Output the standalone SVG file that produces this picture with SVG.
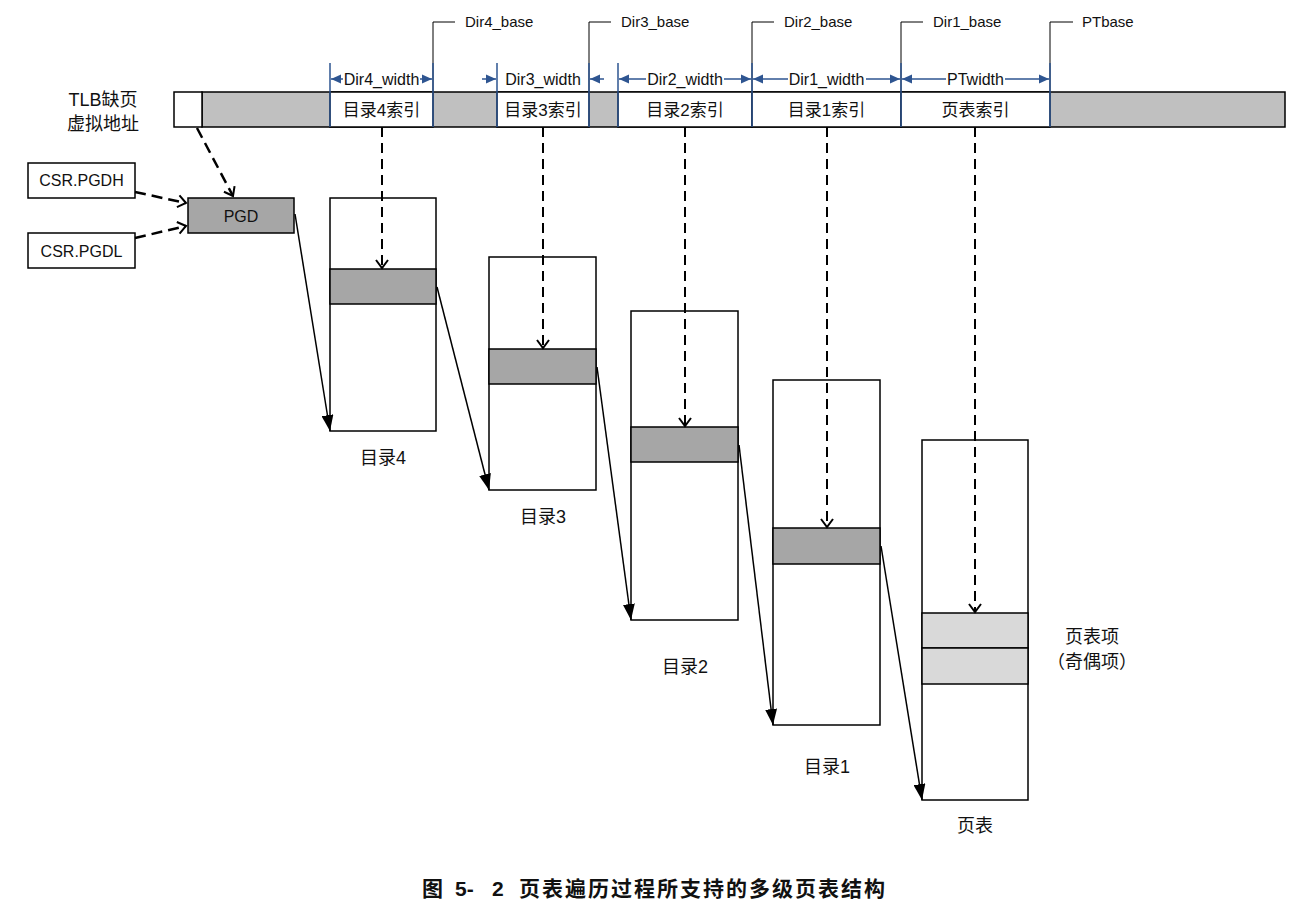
<svg xmlns="http://www.w3.org/2000/svg" width="1293" height="900" viewBox="0 0 1293 900">
<defs>
<style>
text{font-family:"Liberation Sans","Noto Sans CJK SC",sans-serif;fill:#111}
.lbl{font-size:15px}
.idx{font-size:17px;text-anchor:middle}
.wd{font-size:16px;text-anchor:middle}
.box{fill:#fff;stroke:#000;stroke-width:1.5}
.ent{fill:#a6a6a6;stroke:#000;stroke-width:1.5}
.ent2{fill:#d9d9d9;stroke:#000;stroke-width:1.5}
.bar{fill:#c0c0c0;stroke:#000;stroke-width:1.5}
.blue{stroke:#2E5591;stroke-width:1.5;fill:none}
.base{stroke:#000;stroke-width:1;fill:none}
.dash{stroke:#000;stroke-width:2;stroke-dasharray:10,6;fill:none;marker-end:url(#open)}
.dash2{stroke:#000;stroke-width:2.5;stroke-dasharray:11,6;fill:none;marker-end:url(#open)}
.solid{stroke:#000;stroke-width:1.5;fill:none;marker-end:url(#solid)}
</style>
<marker id="open" markerUnits="userSpaceOnUse" markerWidth="16" markerHeight="16" viewBox="0 0 16 16" refX="10" refY="8" orient="auto">
<path d="M2,2 L10,8 L2,14" fill="none" stroke="#000" stroke-width="2"/>
</marker>
<marker id="solid" markerUnits="userSpaceOnUse" markerWidth="16" markerHeight="12" viewBox="0 0 16 12" refX="16" refY="6" orient="auto">
<path d="M0,0 L16,6 L0,12 z" fill="#000"/>
</marker>
<marker id="blu" markerUnits="userSpaceOnUse" markerWidth="10" markerHeight="10" viewBox="0 0 10 10" refX="10" refY="5" orient="auto">
<path d="M0,0.5 L10,5 L0,9.5 z" fill="#2E5591"/>
</marker>
</defs>

<g id="va-label">
<text x="103" y="106" text-anchor="middle" style="font-size:18px">TLB缺页</text>
<text x="103" y="130" text-anchor="middle" style="font-size:18px">虚拟地址</text>
</g>

<g id="va-bar">
<rect class="bar" x="202" y="92" width="1083" height="35"/>
<rect class="box" x="174" y="92" width="28" height="35"/>
<rect class="box" x="330" y="92" width="103" height="35"/>
<text class="idx" x="381.5" y="116">目录4索引</text>
<rect class="box" x="497" y="92" width="92" height="35"/>
<text class="idx" x="543" y="116">目录3索引</text>
<rect class="box" x="618" y="92" width="134" height="35"/>
<text class="idx" x="685" y="116">目录2索引</text>
<rect class="box" x="752" y="92" width="149" height="35"/>
<text class="idx" x="826.5" y="116">目录1索引</text>
<rect class="box" x="901" y="92" width="149" height="35"/>
<text class="idx" x="975.5" y="116">页表索引</text>
</g>

<g id="bases">
<path class="base" d="M433,92 V22 H455"/>
<text class="lbl" x="465" y="27">Dir4_base</text>
<path class="base" d="M589,92 V22 H611"/>
<text class="lbl" x="621" y="27">Dir3_base</text>
<path class="base" d="M752,92 V22 H774"/>
<text class="lbl" x="784" y="27">Dir2_base</text>
<path class="base" d="M901,92 V22 H923"/>
<text class="lbl" x="933" y="27">Dir1_base</text>
<path class="base" d="M1050,92 V22 H1073"/>
<text class="lbl" x="1082" y="27">PTbase</text>
</g>

<g id="widths">
<path class="blue" d="M330,63 V127 M433,63 V127 M497,63 V127 M589,63 V127 M618,63 V127 M752,63 V127 M901,63 V127 M1050,63 V127"/>
<path class="blue" d="M343,79 H331" marker-end="url(#blu)"/>
<path class="blue" d="M420,79 H432" marker-end="url(#blu)"/>
<text class="wd" x="381.5" y="85">Dir4_width</text>
<path class="blue" d="M482,79 H496" marker-end="url(#blu)"/>
<path class="blue" d="M604,79 H590" marker-end="url(#blu)"/>
<text class="wd" x="543" y="85">Dir3_width</text>
<path class="blue" d="M646,79 H619" marker-end="url(#blu)"/>
<path class="blue" d="M724,79 H751" marker-end="url(#blu)"/>
<text class="wd" x="685" y="85">Dir2_width</text>
<path class="blue" d="M788,79 H753" marker-end="url(#blu)"/>
<path class="blue" d="M866,79 H900" marker-end="url(#blu)"/>
<text class="wd" x="826.5" y="85">Dir1_width</text>
<path class="blue" d="M946,79 H902" marker-end="url(#blu)"/>
<path class="blue" d="M1005,79 H1049" marker-end="url(#blu)"/>
<text class="wd" x="975.5" y="85">PTwidth</text>
</g>

<g id="csr-pgdh">
<rect class="box" x="28" y="163" width="107" height="35"/>
<text class="wd" x="81.5" y="186">CSR.PGDH</text>
</g>
<g id="csr-pgdl">
<rect class="box" x="28" y="233" width="107" height="35"/>
<text class="wd" x="81.5" y="257">CSR.PGDL</text>
</g>
<g id="pgd">
<rect class="ent" x="188" y="198" width="106" height="35"/>
<text class="wd" x="241" y="222">PGD</text>
</g>

<g id="dir4">
<rect class="box" x="330" y="198" width="106" height="233"/>
<rect class="ent" x="330" y="269" width="106" height="35"/>
<text class="idx" x="383" y="464" style="font-size:18px">目录4</text>
</g>
<g id="dir3">
<rect class="box" x="489" y="257" width="107" height="233"/>
<rect class="ent" x="489" y="349" width="107" height="35"/>
<text class="idx" x="543" y="523" style="font-size:18px">目录3</text>
</g>
<g id="dir2">
<rect class="box" x="631" y="311" width="107" height="309"/>
<rect class="ent" x="631" y="427" width="107" height="35"/>
<text class="idx" x="685" y="673" style="font-size:18px">目录2</text>
</g>
<g id="dir1">
<rect class="box" x="773" y="380" width="107" height="345"/>
<rect class="ent" x="773" y="528" width="107" height="36"/>
<text class="idx" x="827" y="773" style="font-size:18px">目录1</text>
</g>
<g id="pt">
<rect class="box" x="922" y="440" width="106" height="360"/>
<rect class="ent2" x="922" y="613" width="106" height="35"/>
<rect class="ent2" x="922" y="648" width="106" height="36"/>
<text class="idx" x="975" y="832" style="font-size:18px">页表</text>
<text class="idx" x="1092" y="643" style="font-size:18px">页表项</text>
<text class="idx" x="1092" y="668" style="font-size:18px">（奇偶项）</text>
</g>

<g id="connectors">
<path class="dash2" d="M197,128 L233,196"/>
<path class="dash2" d="M135,192 L186,203"/>
<path class="dash2" d="M135,238 L186,226"/>
<path class="dash" d="M382,127 V268"/>
<path class="dash" d="M543,127 V348"/>
<path class="dash" d="M685,127 V426"/>
<path class="dash" d="M827,127 V527"/>
<path class="dash" d="M975,127 V612"/>
<path class="solid" d="M295,214 L330,431"/>
<path class="solid" d="M437,287 L489,490"/>
<path class="solid" d="M597,367 L631,620"/>
<path class="solid" d="M739,445 L773,725"/>
<path class="solid" d="M881,546 L922,800"/>
</g>

<g id="caption" style="font-weight:bold;font-size:21px">
<text x="422" y="896">图</text>
<text x="455" y="896">5-</text>
<text x="492" y="896">2</text>
<text x="519" y="896" style="letter-spacing:2px">页表遍历过程所支持的多级页表结构</text>
</g>
</svg>
